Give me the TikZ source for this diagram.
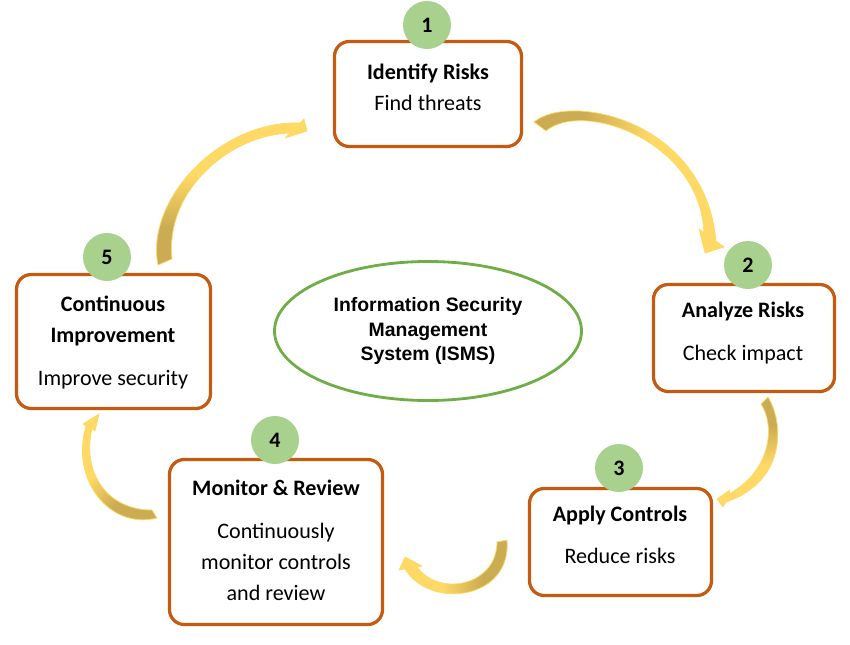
\documentclass[tikz,border=0pt]{standalone}
\usepackage{fontspec}
\setmainfont{Carlito}
\newfontfamily\ismsfont{Liberation Sans}
\usepackage{tikz}
\usetikzlibrary{positioning,shapes.geometric,calc}

\definecolor{boxorange}{RGB}{197,90,17}
\definecolor{stepgreen}{RGB}{169,209,142}
\definecolor{ringgreen}{RGB}{112,173,71}
\definecolor{arrowyellow}{RGB}{255,217,102}
\definecolor{arrowgold}{RGB}{204,172,82}

\pgfdeclarehorizontalshading{tailfade}{100bp}{color(0bp)=(arrowgold); color(25bp)=(arrowgold); color(38bp)=(arrowgold); color(56bp)=(arrowyellow); color(100bp)=(arrowyellow)}

\newcommand{\px}{0.025cm}

\tikzset{
  stage/.style={draw=boxorange, line width=2.3pt, rounded corners=10.5pt, fill=white, inner sep=0pt},
  badge/.style={circle, fill=stepgreen, minimum size=48*\px, inner sep=0pt, font=\fontsize{15.7}{19}\selectfont\bfseries},
  steptitle/.style={font=\fontsize{15.7}{22}\selectfont\bfseries, align=center, inner sep=0pt, anchor=base},
  stepbody/.style={font=\fontsize{15.7}{22}\selectfont, align=center, inner sep=0pt, anchor=base},
  curvy/.style={shading=tailfade, draw=arrowyellow, line width=0.5pt, line join=round}
}

\begin{document}
\begin{tikzpicture}[x=0.025cm, y=-0.025cm]
\useasboundingbox[fill=white] (0,0) rectangle (850,645);

% Boxes
\node[stage, minimum width=187*\px, minimum height=105*\px] (box1) at (428,94) {};
\node[stage, minimum width=181*\px, minimum height=107*\px] (box2) at (744,338) {};
\node[stage, minimum width=182*\px, minimum height=107*\px] (box3) at (620.5,542) {};
\node[stage, minimum width=213*\px, minimum height=165*\px] (box4) at (276,542) {};
\node[stage, minimum width=194*\px, minimum height=134*\px] (box5) at (113.5,341.5) {};

% Step numbers
\foreach \n/\x/\y in {1/427/25, 2/748/265, 3/619/468, 4/275/440, 5/107/257}
    \node[badge] (num\n) at (\x,\y) {\n};

% Texts (base = last line)
\node[steptitle] (t1) at (428,79) {Identify Risks};
\node[stepbody] (d1) at (428,110) {Find threats};
\node[steptitle] (t2) at (743,317) {Analyze Risks};
\node[stepbody] (d2) at (743,360) {Check impact};
\node[steptitle] (t3) at (620,521) {Apply Controls};
\node[stepbody] (d3) at (620,563) {Reduce risks};
\node[steptitle] (t4) at (276,495) {Monitor \& Review};
\node[stepbody] (d4) at (276,600) {Continuously\\monitor controls\\and review};
\node[steptitle] (t5) at (113,342) {Continuous\\Improvement};
\node[stepbody] (d5) at (113,385) {Improve security};

% Centre
\node[ellipse, draw=ringgreen, line width=2pt, minimum width=307*\px, minimum height=139*\px, inner sep=0pt,
      align=center, font=\ismsfont\bfseries\fontsize{13.8}{17.7}\selectfont] (isms) at (428,331)
      {Information Security\\Management\\System (ISMS)};

% Curved arrows
\path[curvy, shading angle=0] (546,131) -- (534,122)
    .. controls (570,92) and (705,120) .. (716,241)
    -- (724,247) -- (705,253) -- (699,229) -- (704,233)
    .. controls (700,140) and (582,100) .. (546,131) -- cycle;
\path[curvy, shading angle=-90] (761,404) -- (768,397)
    .. controls (785,425) and (785,482) .. (726,502)
    -- (723,507) -- (717,499) -- (730,490) -- (729,494)
    .. controls (772,470) and (775,425) .. (761,404) -- cycle;
\path[curvy, shading angle=180] (497,542) -- (507,540)
    .. controls (512,600) and (430,610) .. (405,569)
    -- (399,570) -- (405,557) -- (422,566) -- (417,567)
    .. controls (440,598) and (497,585) .. (497,542) -- cycle;
\path[curvy, shading angle=135] (152,510) -- (157,518)
    .. controls (110,530) and (70,480) .. (86,426)
    -- (83,424) -- (99,414) -- (95,431) -- (92,429)
    .. controls (82,470) and (105,510) .. (152,510) -- cycle;
\path[curvy, shading angle=90] (172,259) -- (158,265)
    .. controls (145,200) and (220,120) .. (300,123)
    -- (304,119) -- (307,131) -- (285,138) -- (290,133)
    .. controls (230,135) and (165,190) .. (172,259) -- cycle;
\end{tikzpicture}
\end{document}
